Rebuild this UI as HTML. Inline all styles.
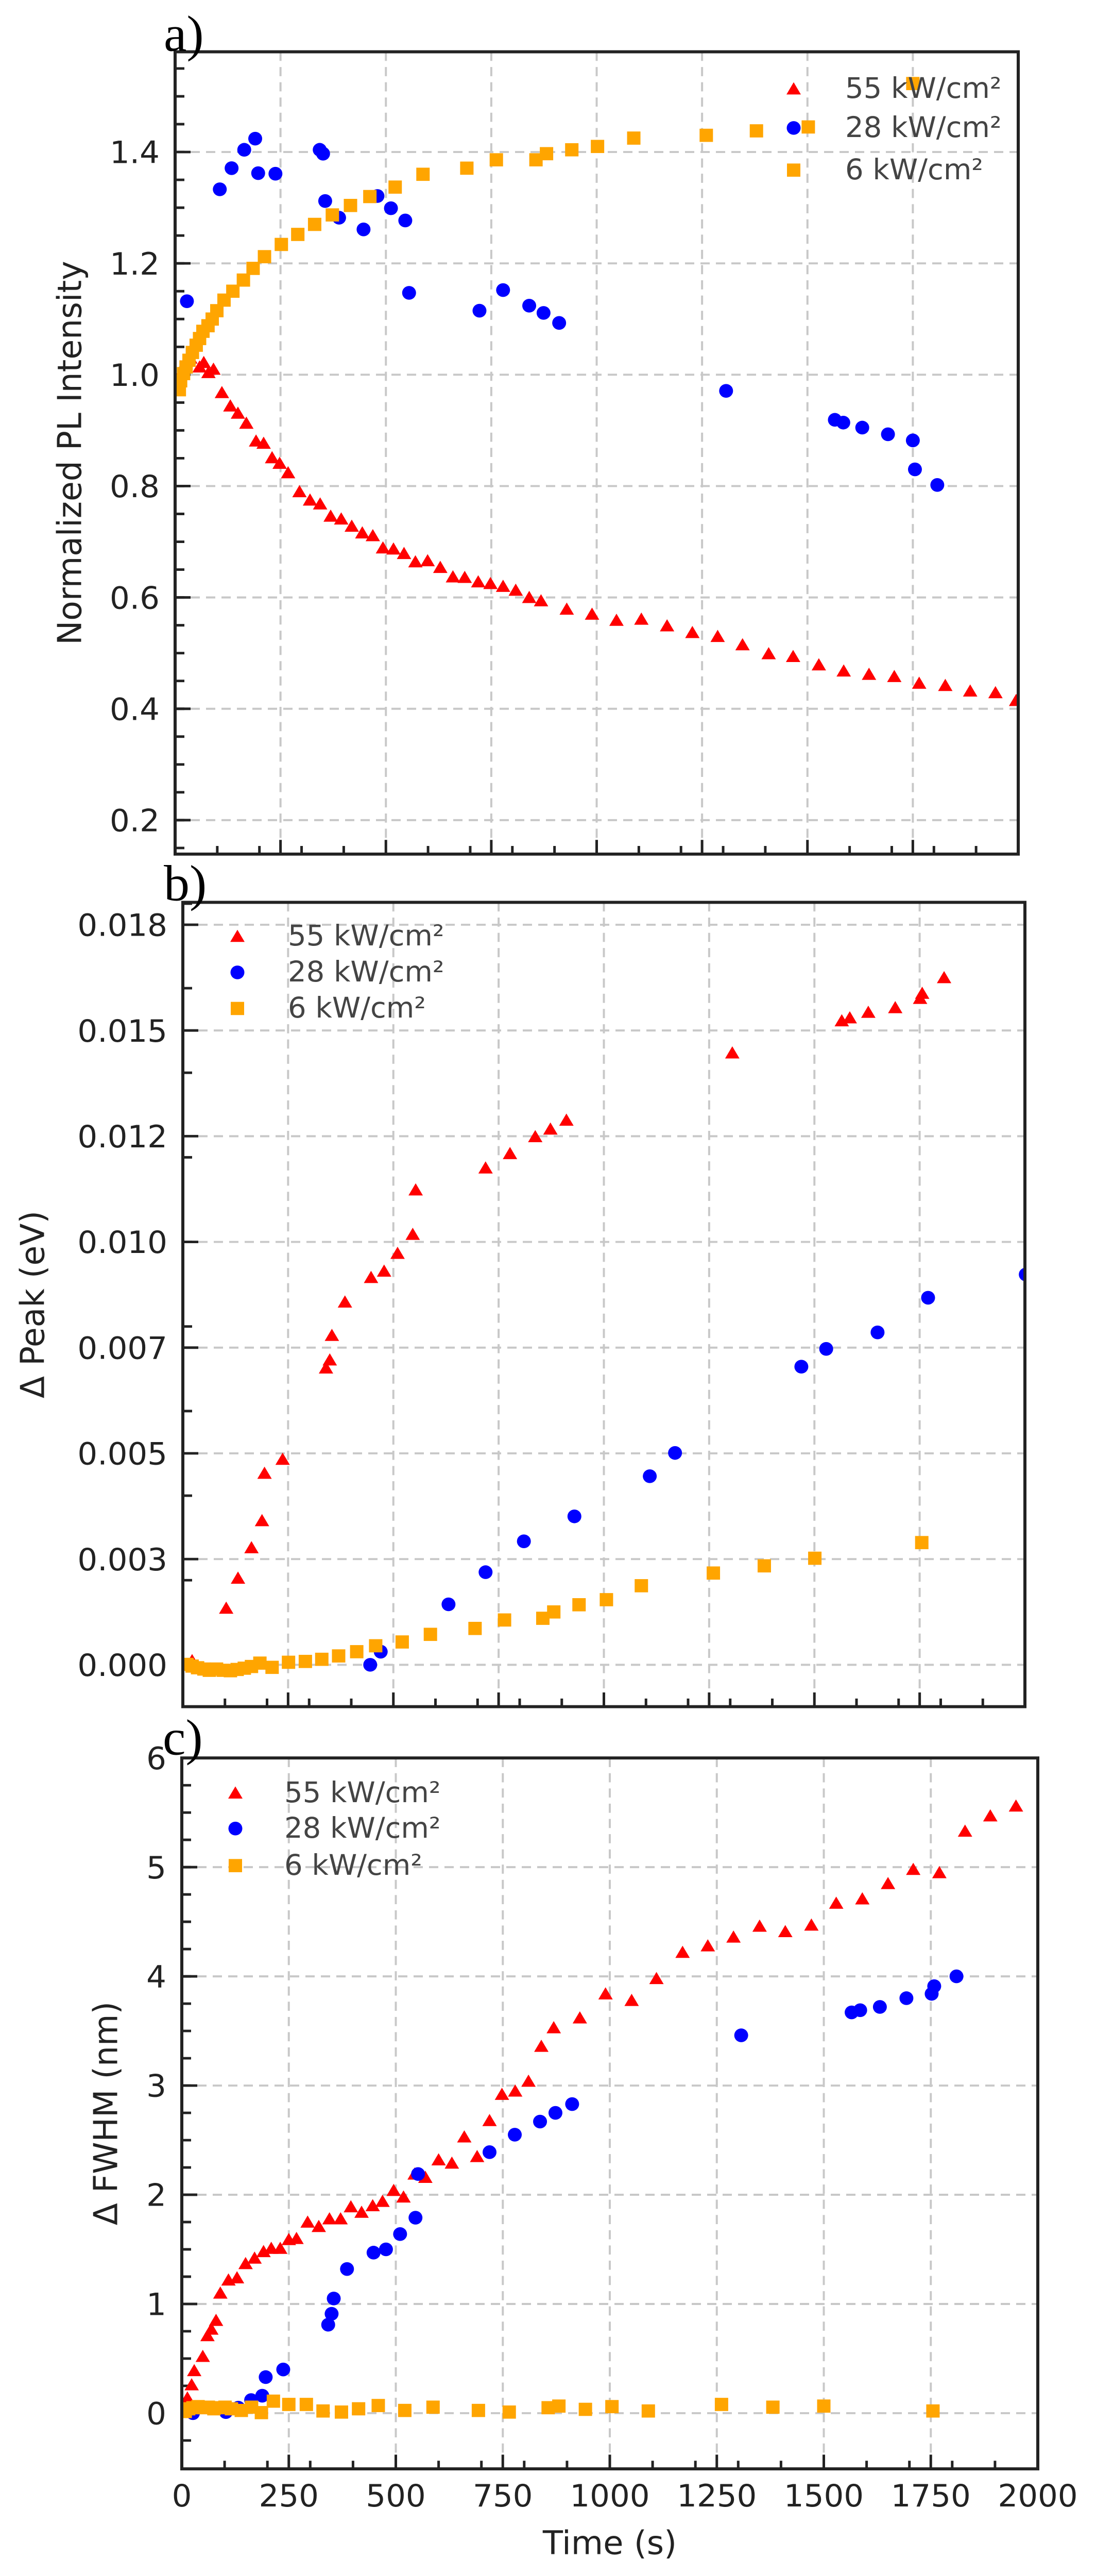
<!DOCTYPE html>
<html><head><meta charset="utf-8"><style>
html,body{margin:0;padding:0;background:#fff;width:100%;height:100%;overflow:hidden}
svg{display:block;position:absolute;left:0;top:0;width:100vw;height:100vh}
text{font-family:"DejaVu Sans","Liberation Sans",sans-serif}
</style></head><body>
<svg id="fig" viewBox="0 0 2128 5073" preserveAspectRatio="none" xmlns="http://www.w3.org/2000/svg"></svg>
<script>
// ---- Panel a data (Normalized PL intensity) ----
const aRedT=[13,25,36,58,68,79,91,111,131,149,169,192,210,230,248,268,295,320,344,369,394,419,444,469,493,518,543,570,599,629,659,687,719,748,778,808,840,868,929,989,1047,1106,1167,1227,1287,1346,1408,1466,1527,1586,1646,1706,1765,1827,1886,1946,1995];
const aRedV=[1.002,1.022,1.030,1.014,1.022,1.004,1.010,0.968,0.944,0.931,0.913,0.881,0.877,0.851,0.841,0.824,0.790,0.775,0.768,0.746,0.741,0.728,0.716,0.711,0.689,0.687,0.679,0.664,0.666,0.654,0.637,0.636,0.628,0.625,0.620,0.613,0.600,0.594,0.579,0.570,0.559,0.561,0.549,0.537,0.530,0.515,0.499,0.494,0.479,0.468,0.462,0.458,0.446,0.442,0.432,0.429,0.415];
const aBlueT=[28,106,134,164,190,197,238,343,351,356,389,447,480,512,546,555,722,778,840,874,911,1307,1565,1585,1630,1691,1750,1755,1808];
const aBlueV=[1.132,1.333,1.371,1.404,1.424,1.362,1.361,1.404,1.397,1.312,1.282,1.261,1.321,1.299,1.277,1.147,1.115,1.152,1.124,1.111,1.093,0.971,0.919,0.914,0.905,0.893,0.882,0.830,0.802];
const aOrT=[10,13,20,26,33,41,50,58,66,78,88,99,116,137,162,185,212,252,291,331,373,416,462,522,588,692,762,856,881,941,1002,1088,1260,1379,1502,1750];
const aOrV=[0.973,0.989,1.002,1.014,1.026,1.040,1.053,1.065,1.078,1.088,1.100,1.115,1.134,1.150,1.170,1.191,1.212,1.234,1.252,1.270,1.287,1.304,1.320,1.337,1.360,1.371,1.386,1.386,1.397,1.404,1.410,1.425,1.430,1.438,1.445,1.523];
// ---- Panel b data (Delta peak, eV) ----
const bRedT=[22,103,131,163,188,194,237,340,349,354,385,447,478,510,546,553,719,777,837,873,911,1305,1565,1584,1628,1692,1751,1756,1808];
const bRedV=[0.0001,0.00134,0.00205,0.00277,0.00341,0.00453,0.00486,0.00702,0.00721,0.00779,0.00858,0.00916,0.00931,0.00973,0.01018,0.01123,0.01175,0.01209,0.01249,0.01267,0.01288,0.01447,0.01523,0.01530,0.01543,0.01554,0.01576,0.01588,0.01625];
const bBlueT=[445,470,631,719,810,930,1109,1169,1469,1528,1650,1770,2002];
const bBlueV=[0.0,0.00031,0.00143,0.00219,0.00292,0.00351,0.00446,0.00501,0.00705,0.00747,0.00786,0.00868,0.00923];
const bOrT=[10,22,35,50,63,80,96,113,129,146,163,183,212,251,291,330,370,413,458,521,588,694,764,855,881,941,1006,1089,1260,1381,1501,1755];
const bOrV=[0.00001,-0.00003,-0.00007,-0.0001,-0.00013,-0.0001,-0.00013,-0.00014,-0.00011,-0.00008,-0.00004,0.00004,-0.00006,0.00006,0.00008,0.00013,0.00021,0.00031,0.00045,0.00054,0.00072,0.00086,0.00106,0.0011,0.00125,0.00142,0.00154,0.00187,0.00217,0.00234,0.00252,0.00289];
// ---- Panel c data (Delta FWHM, nm) ----
const cRedT=[13,23,29,49,60,69,80,90,109,129,149,170,191,209,230,250,268,294,320,345,371,395,420,446,469,495,518,544,569,600,631,660,690,719,748,779,810,840,869,930,990,1051,1109,1170,1229,1289,1350,1410,1471,1529,1590,1650,1709,1770,1830,1889,1949];
const cRedV=[0.14,0.26,0.39,0.52,0.71,0.77,0.85,1.10,1.22,1.24,1.37,1.42,1.48,1.51,1.51,1.59,1.60,1.75,1.71,1.78,1.78,1.89,1.84,1.90,1.94,2.04,1.98,2.19,2.16,2.32,2.29,2.53,2.35,2.68,2.92,2.95,3.04,3.36,3.53,3.62,3.84,3.78,3.98,4.22,4.28,4.36,4.46,4.41,4.47,4.67,4.71,4.85,4.98,4.95,5.33,5.47,5.56];
const cBlueT=[26,103,132,162,188,196,237,342,350,355,386,448,477,510,546,552,719,778,837,873,912,1307,1565,1585,1631,1693,1752,1758,1810];
const cBlueV=[0,0.01,0.05,0.12,0.16,0.33,0.40,0.81,0.91,1.05,1.32,1.47,1.50,1.64,1.79,2.19,2.39,2.55,2.67,2.75,2.83,3.46,3.67,3.69,3.72,3.80,3.84,3.91,4.00];
const cOrT=[8,16,26,38,49,62,75,88,101,116,139,163,186,214,250,291,330,373,413,459,521,587,693,765,856,881,943,1005,1090,1261,1381,1500,1755];
const cOrV=[0.015,0.04,0.05,0.06,0.05,0.055,0.04,0.05,0.055,0.04,0.025,0.055,0.005,0.11,0.08,0.08,0.02,0.01,0.04,0.07,0.025,0.055,0.025,0.01,0.05,0.065,0.035,0.06,0.02,0.08,0.055,0.065,0.02];
const seriesLabels=["55 kW/cm²","28 kW/cm²","6 kW/cm²"];
const aYTicks=["0.2","0.4","0.6","0.8","1.0","1.2","1.4"];
const bYTicks=["0.000","0.003","0.005","0.007","0.010","0.012","0.015","0.018"];
const cYTicks=["0","1","2","3","4","5","6"];
const xTickLabels=["0","250","500","750","1000","1250","1500","1750","2000"];

const NS="http://www.w3.org/2000/svg";
const svg=document.getElementById('fig');
function mk(tag,attrs,parent){const e=document.createElementNS(NS,tag);for(const k in attrs)e.setAttribute(k,attrs[k]);(parent||svg).appendChild(e);return e;}

function panel(cfg){
  const g=mk('g',{});
  
  
  const {L,R,T,B,ymin,ymax}=cfg;
  const sx=t=>L+(t-0)/2000*(R-L);
  const sy=v=>B-(v-ymin)/(ymax-ymin)*(B-T);
  const cid='clip-'+cfg.name;
  const cp=mk('clipPath',{id:cid},g);mk('rect',{x:L,y:T,width:R-L,height:B-T},cp);
  const grid=mk('g',{stroke:'#c8c8c8','stroke-width':4,'stroke-dasharray':'18,12',fill:'none'},g);
  
  
  for(let t=250;t<2000;t+=250) mk('line',{x1:sx(t),x2:sx(t),y1:T,y2:B},grid);
  cfg.yMajor.forEach(v=>{if(v>ymin&&v<ymax) mk('line',{x1:L,x2:R,y1:sy(v),y2:sy(v)},grid);});
  const tk=mk('g',{stroke:'#222','stroke-width':5},g);
  
  
  cfg.yMajor.forEach(v=>{if(v>=ymin&&v<=ymax) mk('line',{x1:L,x2:L+30,y1:sy(v),y2:sy(v)},tk);});
  cfg.yMinor.forEach(v=>{if(v>=ymin&&v<=ymax) mk('line',{x1:L,x2:L+18,y1:sy(v),y2:sy(v)},tk);});
  for(let t=0;t<=2000;t+=250) mk('line',{x1:sx(t),x2:sx(t),y1:B,y2:B-28},tk);
  for(let t=100;t<2000;t+=100) if(t%250) mk('line',{x1:sx(t),x2:sx(t),y1:B,y2:B-16},tk);
  cfg.yMajor.forEach((v,i)=>{
    const tx=mk('text',{x:L-30,y:sy(v)+22,'text-anchor':'end','font-size':61,fill:'#222'},g);
    tx.textContent=cfg.yLabels[i];
    
    
  });
  const yt=mk('text',{x:cfg.titleX,y:(T+B)/2,'text-anchor':'middle','font-size':64,fill:'#222',transform:`rotate(-90 ${cfg.titleX} ${(T+B)/2})`,'dominant-baseline':'middle'},g);
  yt.textContent=cfg.yTitle;
  
  
  const sg=mk('g',{'clip-path':`url(#${cid})`},g);
  function marker(kind,x,y,parent){
    if(kind==='tri') return mk('polygon',{points:`${x},${y-13} ${x-14},${y+11} ${x+14},${y+11}`,fill:'#ff0000'},parent);
    if(kind==='cir') return mk('circle',{cx:x,cy:y,r:13.5,fill:'#0000ff'},parent);
    return mk('rect',{x:x-13,y:y-13,width:26,height:26,fill:'#ffa500'},parent);
  }
  const kinds=['tri','cir','sq'];
  const names=['series-55kw','series-28kw','series-6kw'];
  cfg.series.forEach((s,si)=>{
    const ss=mk('g',{},sg);
    
    
    s[0].forEach((t,i)=>{
      const m=marker(kinds[si],sx(t),sy(s[1][i]),ss);
      
      
    });
  });
  const lg=mk('g',{},g);
  
  
  seriesLabels.forEach((lab,i)=>{
    const y=cfg.legY[i];
    const e=mk('g',{},lg);
    
    
    marker(kinds[i],cfg.legMX,y-18,e);
    const tx=mk('text',{x:cfg.legTX,y:y,'font-size':56,fill:'#444'},e);
    tx.textContent=lab;
  });
  const fr=mk('rect',{x:L,y:T,width:R-L,height:B-T,fill:'none',stroke:'#222','stroke-width':6},g);
  
  
  const pl=mk('text',{x:cfg.letterX,y:cfg.letterY,'font-size':100,fill:'#000',style:'font-family:"Liberation Serif",serif'},g);
  pl.textContent=cfg.letter;
  
  
  if(cfg.xLabels){
    xTickLabels.forEach((lab,i)=>{
      const tx=mk('text',{x:sx(i*250),y:B+74,'text-anchor':'middle','font-size':61,fill:'#222'},g);
      tx.textContent=lab;
      
      
    });
    const xt=mk('text',{x:(L+R)/2,y:5030,'text-anchor':'middle','font-size':64,fill:'#222'},g);
    xt.textContent='Time (s)';
    
    
  }
}
function range(a,b,s){const r=[];for(let v=a;v<=b+1e-9;v+=s)r.push(+v.toFixed(6));return r;}

panel({name:'panel-a',L:340,R:1977,T:102,B:1682,ymin:0.139,ymax:1.58,
  yMajor:range(0.2,1.4,0.2),yMinor:range(0.15,1.55,0.05),yLabels:aYTicks,
  titleX:140,yTitle:'Normalized PL Intensity',
  series:[[aRedT,aRedV],[aBlueT,aBlueV],[aOrT,aOrV]],
  legMX:1541,legTX:1641,legY:[193,270,353],letter:'a)',letterX:318,letterY:100});
panel({name:'panel-b',L:355,R:1990,T:1777,B:3361,ymin:-0.00099,ymax:0.01803,
  yMajor:range(0,0.0175,0.0025),yMinor:range(0,0.018,0.002),yLabels:bYTicks,
  titleX:68,yTitle:'Δ Peak (eV)',
  series:[[bRedT,bRedV],[bBlueT,bBlueV],[bOrT,bOrV]],
  legMX:461,legTX:559,legY:[1862,1933,2004],letter:'b)',letterX:318,letterY:1773});
panel({name:'panel-c',L:353,R:2015,T:3462,B:4862,ymin:-0.51,ymax:6,
  yMajor:range(0,6,1),yMinor:range(-0.25,6,0.25),yLabels:cYTicks,
  titleX:210,yTitle:'Δ FWHM (nm)',
  series:[[cRedT,cRedV],[cBlueT,cBlueV],[cOrT,cOrV]],
  legMX:457,legTX:552,legY:[3549,3619,3692],letter:'c)',letterX:316,letterY:3455,xLabels:true});
</script>
</body></html>
